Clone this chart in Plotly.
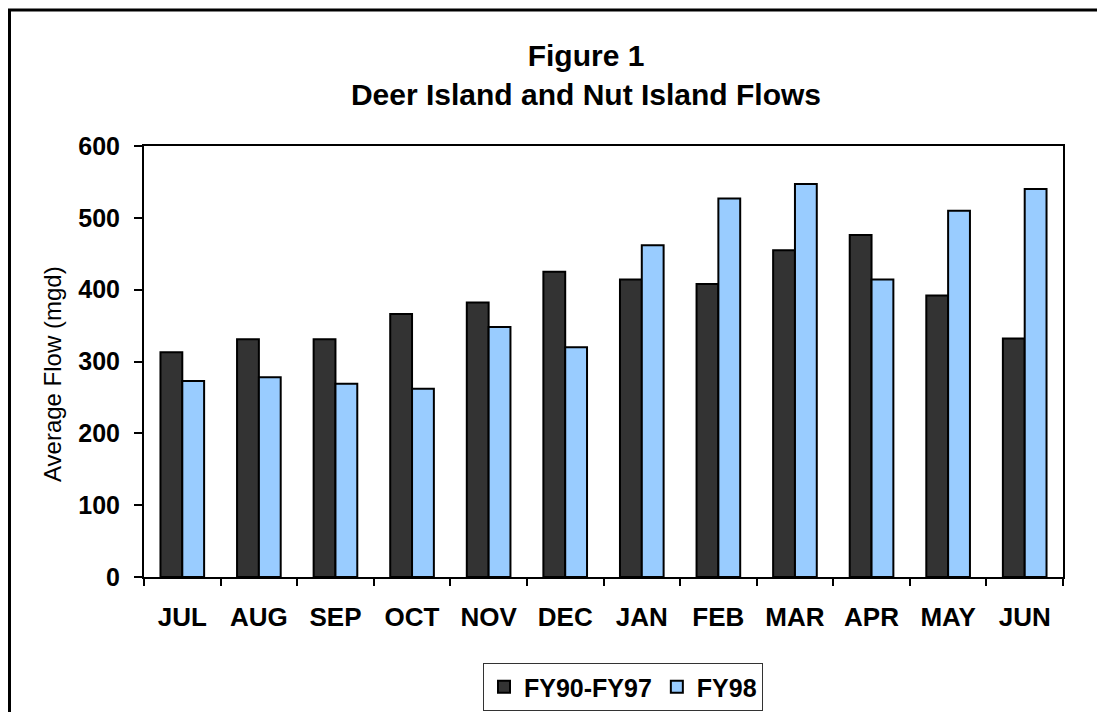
import plotly.graph_objects as go

months = ["JUL", "AUG", "SEP", "OCT", "NOV", "DEC", "JAN", "FEB", "MAR", "APR", "MAY", "JUN"]
fy90_97 = [313, 331, 331, 366, 382, 425, 414, 408, 455, 476, 392, 332]
fy98 = [273, 278, 269, 262, 348, 320, 462, 527, 547, 414, 510, 540]
y_ticks = [0, 100, 200, 300, 400, 500, 600]

FONT = "Liberation Sans, Arial, sans-serif"

fig = go.Figure()
fig.add_trace(go.Bar(name="FY90-FY97", x=months, y=fy90_97,
                     marker=dict(color="#333333", line=dict(color="black", width=2))))
fig.add_trace(go.Bar(name="FY98", x=months, y=fy98,
                     marker=dict(color="#99CCFF", line=dict(color="black", width=2))))

W, H = 1105, 712
L, R, T, B = 136, 50, 138, 143
pw, ph = W - L - R, H - T - B

fig.update_layout(
    width=W, height=H,
    margin=dict(l=L, r=R, t=T, b=B, pad=0, autoexpand=False),
    paper_bgcolor="white", plot_bgcolor="white",
    barmode="group", bargap=0.43, bargroupgap=0,
    font=dict(family=FONT, color="black"),
    title=dict(text="Figure 1<br>Deer Island and Nut Island Flows",
               font=dict(family=FONT, size=30, color="black", weight="bold"),
               x=578 / W, xanchor="center", xref="container",
               y=1 - 58 / H, yanchor="top", yref="container"),
    showlegend=True,
    legend=dict(orientation="h", x=(615 - L) / pw, xanchor="center",
                y=(H - B - 655) / ph, yanchor="top",
                font=dict(family=FONT, size=25, color="black", weight="bold"),
                bordercolor="#333333", borderwidth=1, bgcolor="white",
                itemsizing="constant", traceorder="normal", tracegroupgap=0),
    xaxis=dict(showline=True, linecolor="black", linewidth=2, mirror=True,
               ticks="outside", tickson="boundaries", ticklen=7, tickwidth=2, tickcolor="black",
               ticklabelstandoff=16, automargin=False,
               tickfont=dict(family=FONT, size=26, color="black", weight="bold"),
               showgrid=False, zeroline=False),
    yaxis=dict(range=[0, 600], tickvals=y_ticks, ticktext=[str(v) for v in y_ticks],
               showline=True, linecolor="black", linewidth=2, mirror=True,
               ticks="outside", ticklen=8, tickwidth=2, tickcolor="black",
               ticklabelstandoff=9, automargin=False,
               tickfont=dict(family=FONT, size=25, color="black", weight="bold"),
               showgrid=False, zeroline=False),
)

# y-axis title, placed where the reference has it (slightly below the axis centre)
fig.add_annotation(text="Average Flow (mgd)", textangle=-90, showarrow=False,
                   xref="paper", yref="paper",
                   x=(44 - L) / pw, y=(H - B - 366) / ph,
                   xanchor="center", yanchor="middle",
                   font=dict(family=FONT, size=24, color="black"))

# outer chart frame (its right and bottom edges fall outside the window)
fig.add_shape(type="rect", xref="paper", yref="paper",
              x0=(1.5 - L) / pw, x1=(W + 20 - L) / pw,
              y0=(H - B - (H + 20)) / ph, y1=(H - B - 2) / ph,
              line=dict(color="black", width=3), fillcolor="rgba(0,0,0,0)", layer="below")

fig.write_html("out.html")
